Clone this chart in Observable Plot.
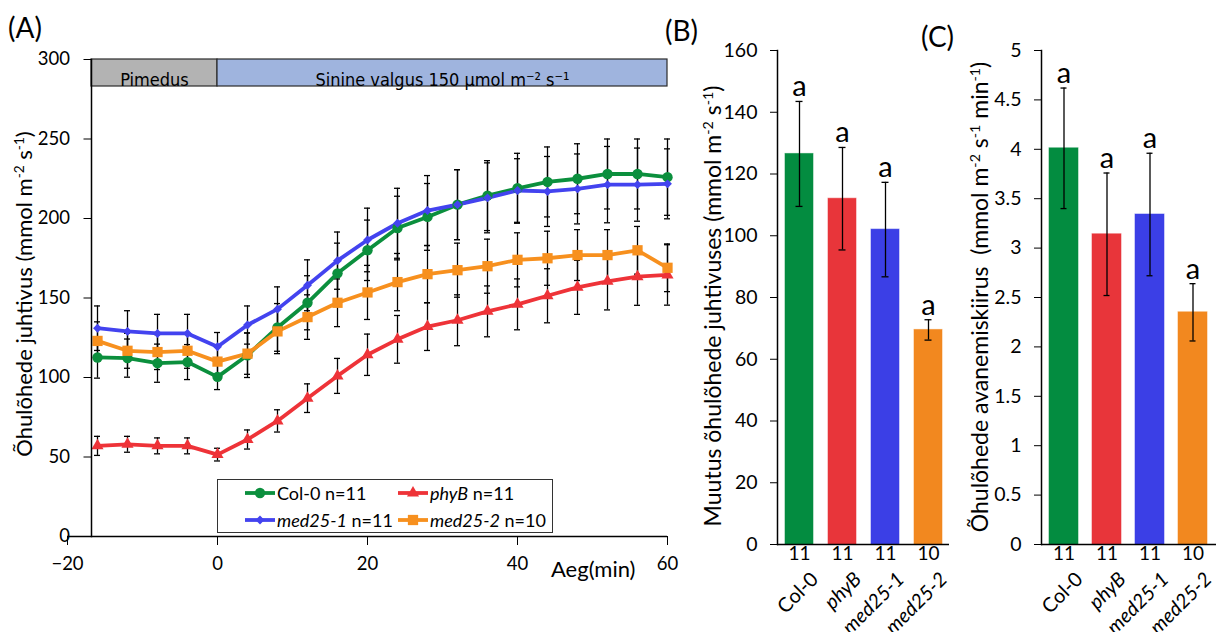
<!DOCTYPE html>
<html><head><meta charset="utf-8">
<script src="https://cdn.jsdelivr.net/npm/d3@7"></script>
<script src="https://cdn.jsdelivr.net/npm/@observablehq/plot@0.6"></script>
<style>
body{margin:0;background:#fff;font-family:Lato,"Open Sans",sans-serif;color:#000;}
#wrap{position:relative;width:1216px;height:632px;overflow:hidden;background:#fff;}
.ytitle{position:absolute;white-space:nowrap;transform:translate(-50%,-50%) rotate(-90deg);font-size:22px;color:#000;}
.lbl{position:absolute;white-space:nowrap;color:#000;}
sup{font-size:0.62em;vertical-align:0.55em;line-height:0;}
.leg{position:absolute;border:1px solid #333;background:#fff;box-sizing:border-box;}
.item{position:absolute;display:flex;align-items:center;font-size:18px;white-space:nowrap;}
.item svg{margin-right:2px;}
</style></head><body><div id="wrap"></div>
<script>
// ---------- DATA ----------
const times = [-16,-12,-8,-4,0,4,8,12,16,20,24,28,32,36,40,44,48,52,56,60];
const genotypes = ["Col-0","phyB","med25-1","med25-2"];
const nPlants = [11,11,11,10];
const col0 = [112.6,112.2,109,109.7,100.4,114,131.5,147,165.5,180,194,201,208.7,214.4,219,223,225,228,228,226];
const col0Err = [13,12,12,11,8,14,15,17,19,19,20,21,22,22,22,22,22,22,22,24];
const phyB = [57,58,57,57,51.5,61,72.7,87,101,114.3,124,132,136,141.6,146,151.4,156.7,160.5,163.4,164.5];
const phyBErr = [6,5,5,5,4,6,7,9,11,13,15,15,16,16,16,17,17,18,18,19];
const med1 = [131,129,127.7,127.7,119.3,133,143,158,173.5,186.5,197,205,208.7,213,217.6,217,218.6,221.3,221.3,221.8];
const med1Err = [14,13,12,12,9,12,14,16,18,20,22,22,22,22,20,22,22,24,23,22];
const med2 = [123,116.8,116,116.8,110,115,129,138,147,153.5,160,165,167.5,170,174,175,177,177,180,169];
const med2Err = [12,11,11,11,9,13,14,14,15,17,18,18,17,17,17,17,16,16,15,15];

const phaseLabels = ["Pimedus","Sinine valgus 150 µmol m⁻² s⁻¹"];
const phaseStart = [-16.8, 0];
const phaseEnd = [0, 60];

const xTicksA = [-20,0,20,40,60];
const yTicksA = [0,50,100,150,200,250,300];

// panel B: change in stomatal conductance
const changeB = [126.5,112,102,69.5];
const changeBErr = [17,16.6,15.3,3.3];
const lettersB = ["a","a","a","a"];
const yTicksB = [0,20,40,60,80,100,120,140,160];

// panel C: stomatal opening rate
const rateC = [4.01,3.14,3.34,2.35];
const rateCErr = [0.61,0.62,0.62,0.29];
const lettersC = ["a","a","a","a"];
const yTicksC = [0,0.5,1,1.5,2,2.5,3,3.5,4,4.5,5];

// ---------- STYLE ----------
const lineColors = ["#0b8f3d","#ee3338","#4343ef","#f7901e"];
const barColors = ["#038c40","#e8353a","#3b3fe6","#f2881f"];
const symbols = ["circle","triangle","diamond2","square"];
const symR = [5.2,4.5,4,5.8];
const FONT = "Lato, 'Open Sans', sans-serif";

const wrap = document.getElementById("wrap");
function put(el, left, top){ el.style.position="absolute"; el.style.left=left+"px"; el.style.top=top+"px"; wrap.appendChild(el); return el; }
function html(cls, text, left, top, extra){ const d=document.createElement("div"); d.className=cls; d.innerHTML=text; if(extra) Object.assign(d.style, extra); return put(d,left,top); }

// ---------- PANEL A ----------
const seriesA = [col0, phyB, med1, med2];
const errA = [col0Err, phyBErr, med1Err, med2Err];
const longA = [];
genotypes.forEach((g,i)=>times.forEach((t,j)=>longA.push({g, t, v: seriesA[i][j], e: errA[i][j]})));
const phases = phaseLabels.map((label,i)=>({label, start: phaseStart[i], end: phaseEnd[i], fill: i===0 ? "#b3b3b3" : "#9fb4de"}));

const frameHA = 536 - 59;
const marksA = [
  Plot.rect(phases, {x1:"start", x2:"end", fill:"fill", stroke:"#2b2b2b", strokeWidth:1.2, insetBottom: frameHA - 27}),
  Plot.text(phases, {x: d=>(d.start+d.end)/2, text:"label", frameAnchor:"top", dy:13.5, fontFamily:"'Liberation Sans Narrow','DejaVu Sans Condensed',sans-serif", fontSize:18, fill:"#000"}),
  Plot.ruleX(longA, {x:"t", y1:d=>d.v-d.e, y2:d=>d.v+d.e, stroke:"#000", strokeWidth:1.3}),
  Plot.ruleY(longA, {x1:"t", x2:"t", y:d=>d.v+d.e, insetLeft:-3, insetRight:-3, stroke:"#000", strokeWidth:1.3}),
  Plot.ruleY(longA, {x1:"t", x2:"t", y:d=>d.v-d.e, insetLeft:-3, insetRight:-3, stroke:"#000", strokeWidth:1.3}),
  Plot.line(longA, {x:"t", y:"v", z:"g", stroke:"g", strokeWidth:3.8}),
];
genotypes.forEach((g,i)=>{
  marksA.push(Plot.dot(longA.filter(d=>d.g===g), {x:"t", y:"v", symbol: symbols[i], r: symR[i], fill: lineColors[i], stroke:"none"}));
});
marksA.push(
  Plot.ruleY([0], {x1: xTicksA[0], x2: xTicksA[xTicksA.length-1], stroke:"#000", strokeWidth:1.5}),
  Plot.frame({anchor:"left", stroke:"#000", strokeWidth:1.5}),
  Plot.axisX({ticks: xTicksA, tickSize:9, tickPadding:11, fontSize:18.5, label:null, stroke:"#000"}),
  Plot.axisY({ticks: yTicksA, tickSize:7.5, tickPadding:14, fontSize:18.5, label:null})
);
const plotA = Plot.plot({
  width: 680, height: 600,
  marginTop: 59, marginBottom: 64, marginLeft: 91, marginRight: 13,
  style: {fontFamily: FONT, fontSize: "18.5px", color: "#000", background: "transparent", overflow: "visible"},
  x: {domain: [xTicksA[0], xTicksA[xTicksA.length-1]], range: [67, 667]},
  y: {domain: [yTicksA[0], yTicksA[yTicksA.length-1]]},
  color: {domain: genotypes, range: lineColors},
  marks: marksA
});
put(plotA, 0, 0);

// ---------- BAR PANELS ----------
function barPanel({values, errs, letters, yTicks, width, height, marginLeft, marginRight, paddingInner, paddingOuter, capW, bandW}){
  const data = genotypes.map((g,i)=>({g, v: values[i], e: errs[i], letter: letters[i], n: nPlants[i], c: barColors[i]}));
  const nameOpts = {x:"g", text:"g", frameAnchor:"bottom", dy:26, dx:10, rotate:-45, textAnchor:"end", lineAnchor:"top", fontSize:20, fill:"#000"};
  return Plot.plot({
    width, height, marginTop: 50, marginBottom: height - 544, marginLeft, marginRight,
    style: {fontFamily: FONT, fontSize: "19px", color: "#000", background: "transparent", overflow: "visible"},
    x: {domain: genotypes, paddingInner, paddingOuter, axis: null},
    y: {domain: [yTicks[0], yTicks[yTicks.length-1]]},
    marks: [
      Plot.barY(data, {x:"g", y:"v", fill:"c", stroke:"c", strokeOpacity:0.55, strokeWidth:1}),
      Plot.ruleX(data, {x:"g", y1:d=>d.v-d.e, y2:d=>d.v+d.e, stroke:"#000", strokeWidth:1.3}),
      Plot.tickY(data, {x:"g", y:d=>d.v+d.e, insetLeft:(bandW-capW)/2, insetRight:(bandW-capW)/2, stroke:"#000", strokeWidth:1.3}),
      Plot.tickY(data, {x:"g", y:d=>d.v-d.e, insetLeft:(bandW-capW)/2, insetRight:(bandW-capW)/2, stroke:"#000", strokeWidth:1.3}),
      Plot.text(data, {x:"g", y:d=>d.v+d.e, text:"letter", dy:-5, lineAnchor:"bottom", fontSize:29, fill:"#000"}),
      Plot.text(data, {x:"g", text:d=>String(d.n), frameAnchor:"bottom", dy:15, fontSize:19, fill:"#000"}),
      Plot.text(data.filter(d=>d.g==="Col-0"), nameOpts),
      Plot.text(data.filter(d=>d.g!=="Col-0"), {...nameOpts, fontStyle:"italic"}),
      Plot.ruleY([0], {stroke:"#000", strokeWidth:1.5}),
      Plot.frame({anchor:"left", stroke:"#000", strokeWidth:1.5}),
      Plot.axisY({ticks: yTicks, tickSize:7, tickPadding:13, fontSize:19.5, label:null, tickFormat: d=>String(d)})
    ]
  });
}
const plotB = barPanel({values: changeB, errs: changeBErr, letters: lettersB, yTicks: yTicksB, width: 290, height: 632, marginLeft: 117, marginRight: 1, paddingInner: 0.35, paddingOuter: 0.175, capW: 7, bandW: 28});
put(plotB, 660, 0);
const plotC = barPanel({values: rateC, errs: rateCErr, letters: lettersC, yTicks: yTicksC, width: 276, height: 632, marginLeft: 101, marginRight: 0, paddingInner: 0.32, paddingOuter: 0.16, capW: 7, bandW: 30});
put(plotC, 940, 0);

// ---------- TEXT ----------
html("lbl", "(A)", 8, 10, {fontSize:"28px"});
html("lbl", "(B)", 665, 13, {fontSize:"28px"});
html("lbl", "(C)", 921, 19, {fontSize:"28px"});
html("ytitle", "Õhulõhede juhtivus (mmol m<sup>-2</sup> s<sup>-1</sup>)", 23, 294, {fontSize:"22px"});
html("ytitle", "Muutus õhulõhede juhtivuses (mmol m<sup>-2</sup> s<sup>-1</sup>)", 712, 306, {fontSize:"23px"});
html("ytitle", "Õhulõhede avanemiskiirus&nbsp; (mmol m<sup>-2</sup> s<sup>-1</sup> min<sup>-1</sup>)", 979, 297, {fontSize:"23px"});
html("lbl", "Aeg(min)", 551, 555, {fontSize:"22px"});

// ---------- LEGEND ----------
const leg = document.createElement("div"); leg.className="leg";
Object.assign(leg.style,{width:"336px",height:"54px"});
put(leg, 217, 479);
const legPos = [[27,1],[180,1],[27,28],[180,28]];
genotypes.forEach((g,i)=>{
  const it = document.createElement("div"); it.className="item";
  const sw = d3.create("svg").attr("width",30).attr("height",24);
  sw.append("line").attr("x1",0).attr("x2",30).attr("y1",12).attr("y2",12).attr("stroke",lineColors[i]).attr("stroke-width",3.8);
  const sym = d3.symbol().type([d3.symbolCircle,d3.symbolTriangle,d3.symbolDiamond2,d3.symbolSquare][i]).size(Math.PI*symR[i]*symR[i]);
  sw.append("path").attr("d",sym()).attr("transform","translate(15,12)").attr("fill",lineColors[i]);
  it.appendChild(sw.node());
  const t = document.createElement("span");
  t.innerHTML = (i===0 ? g : "<i>"+g+"</i>") + " n=" + nPlants[i];
  it.appendChild(t);
  it.style.left = legPos[i][0]+"px"; it.style.top = legPos[i][1]+"px";
  leg.appendChild(it);
});
</script></body></html>
